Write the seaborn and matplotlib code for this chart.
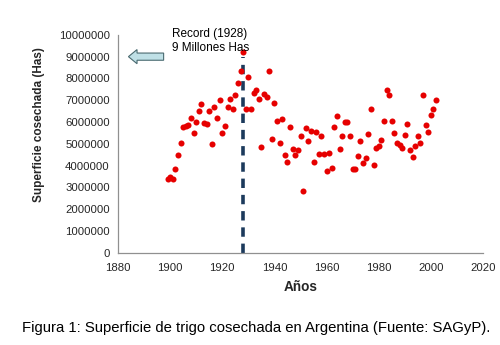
import matplotlib
matplotlib.use("Agg")
import matplotlib.pyplot as plt
import seaborn as sns
import pandas as pd
from matplotlib.patches import FancyArrow

# Harvested wheat area in Argentina, millions of hectares, by year
years = list(range(1899, 2003))
area_millions = [
    3.39, 3.50, 3.41, 3.84, 4.48, 5.03, 5.79, 5.84, 5.87, 6.19,   # 1899-1908
    5.49, 6.02, 6.51, 6.83, 5.96, 5.92, 6.50, 5.00, 6.70, 6.19,   # 1909-1918
    6.99, 5.50, 5.84, 6.67, 7.05, 6.62, 7.26, 7.80, 8.32, 9.21,   # 1919-1928
    6.59, 8.06, 6.62, 7.32, 7.48, 7.08, 4.85, 7.28, 7.14, 8.32,   # 1929-1938
    5.21, 6.88, 6.07, 5.03, 6.15, 4.48, 4.17, 5.77, 4.76, 4.48,   # 1939-1948
    4.71, 5.37, 2.86, 5.72, 5.12, 5.61, 4.17, 5.55, 4.53, 5.38,   # 1949-1958
    4.53, 3.75, 4.57, 3.90, 5.79, 6.28, 4.76, 5.38, 5.98, 5.98,   # 1959-1968
    5.34, 3.84, 3.84, 4.45, 5.14, 4.10, 4.36, 5.43, 6.59, 4.05,   # 1969-1978
    4.82, 4.91, 5.17, 6.07, 7.48, 7.22, 6.07, 5.50, 5.03, 4.94,   # 1979-1988
    4.79, 5.41, 5.93, 4.71, 4.39, 4.91, 5.38, 5.03, 7.26, 5.86,   # 1989-1998
    5.55, 6.32, 6.58, 7.00,                                       # 1999-2002
]
record_year = 1928
record_level = 9000000
x_ticks = list(range(1880, 2021, 20))
y_ticks = list(range(0, 10000001, 1000000))

df = pd.DataFrame({"year": years, "area": [v * 1e6 for v in area_millions]})

sns.set_theme(style="white")
plt.rcParams["font.family"] = ["Liberation Sans", "DejaVu Sans"]

fig = plt.figure(figsize=(5.0, 3.45), dpi=100)
ax = fig.add_axes([0.236, 0.267, 0.730, 0.632])

sns.scatterplot(data=df, x="year", y="area", ax=ax, color="#e60000",
                s=19, linewidth=0, zorder=3, legend=False)

# Dashed marker for the record year
ax.plot([record_year, record_year], [0, record_level], color="#1c3a5c",
        linewidth=2.6, linestyle=(0, (2.6, 1.9)), zorder=2)

# Block arrow pointing to the 9 million level on the y axis
arrow = FancyArrow(1897.5, record_level, -13.5, 0, width=330000,
                   head_width=650000, head_length=3.3,
                   length_includes_head=True, facecolor="#bfe0e6",
                   edgecolor="#4a6a70", linewidth=0.8, clip_on=False, zorder=4)
ax.add_patch(arrow)
ax.text(1900.8, 9130000, "Record (1928)\n9 Millones Has", fontsize=8.5,
        ha="left", va="bottom", linespacing=1.2, color="black")

ax.set_xlim(1880, 2020)
ax.set_ylim(0, 10000000)
ax.set_xticks(x_ticks)
ax.set_yticks(y_ticks)
ax.set_xticklabels([str(t) for t in x_ticks], fontsize=8.2)
ax.set_yticklabels([str(t) for t in y_ticks], fontsize=8.2)
ax.tick_params(axis="both", direction="out", length=3, width=0.8,
               color="#808080", pad=3)
ax.tick_params(axis="x", pad=4)

for side in ("top", "right"):
    ax.spines[side].set_visible(False)
for side in ("left", "bottom"):
    ax.spines[side].set_color("#909090")
    ax.spines[side].set_linewidth(0.9)

ax.set_xlabel("Años", fontsize=9.8, fontweight="bold", labelpad=5)
ax.set_ylabel("Superficie cosechada (Has)", fontsize=8.5, fontweight="bold")
ax.yaxis.set_label_coords(-0.2, 0.59)

fig.text(0.044, 0.038,
         "Figura 1: Superficie de trigo cosechada en Argentina (Fuente: SAGyP).",
         fontsize=10.7, ha="left", va="baseline", color="black")

fig.savefig("out.png", dpi=100, facecolor="white")
